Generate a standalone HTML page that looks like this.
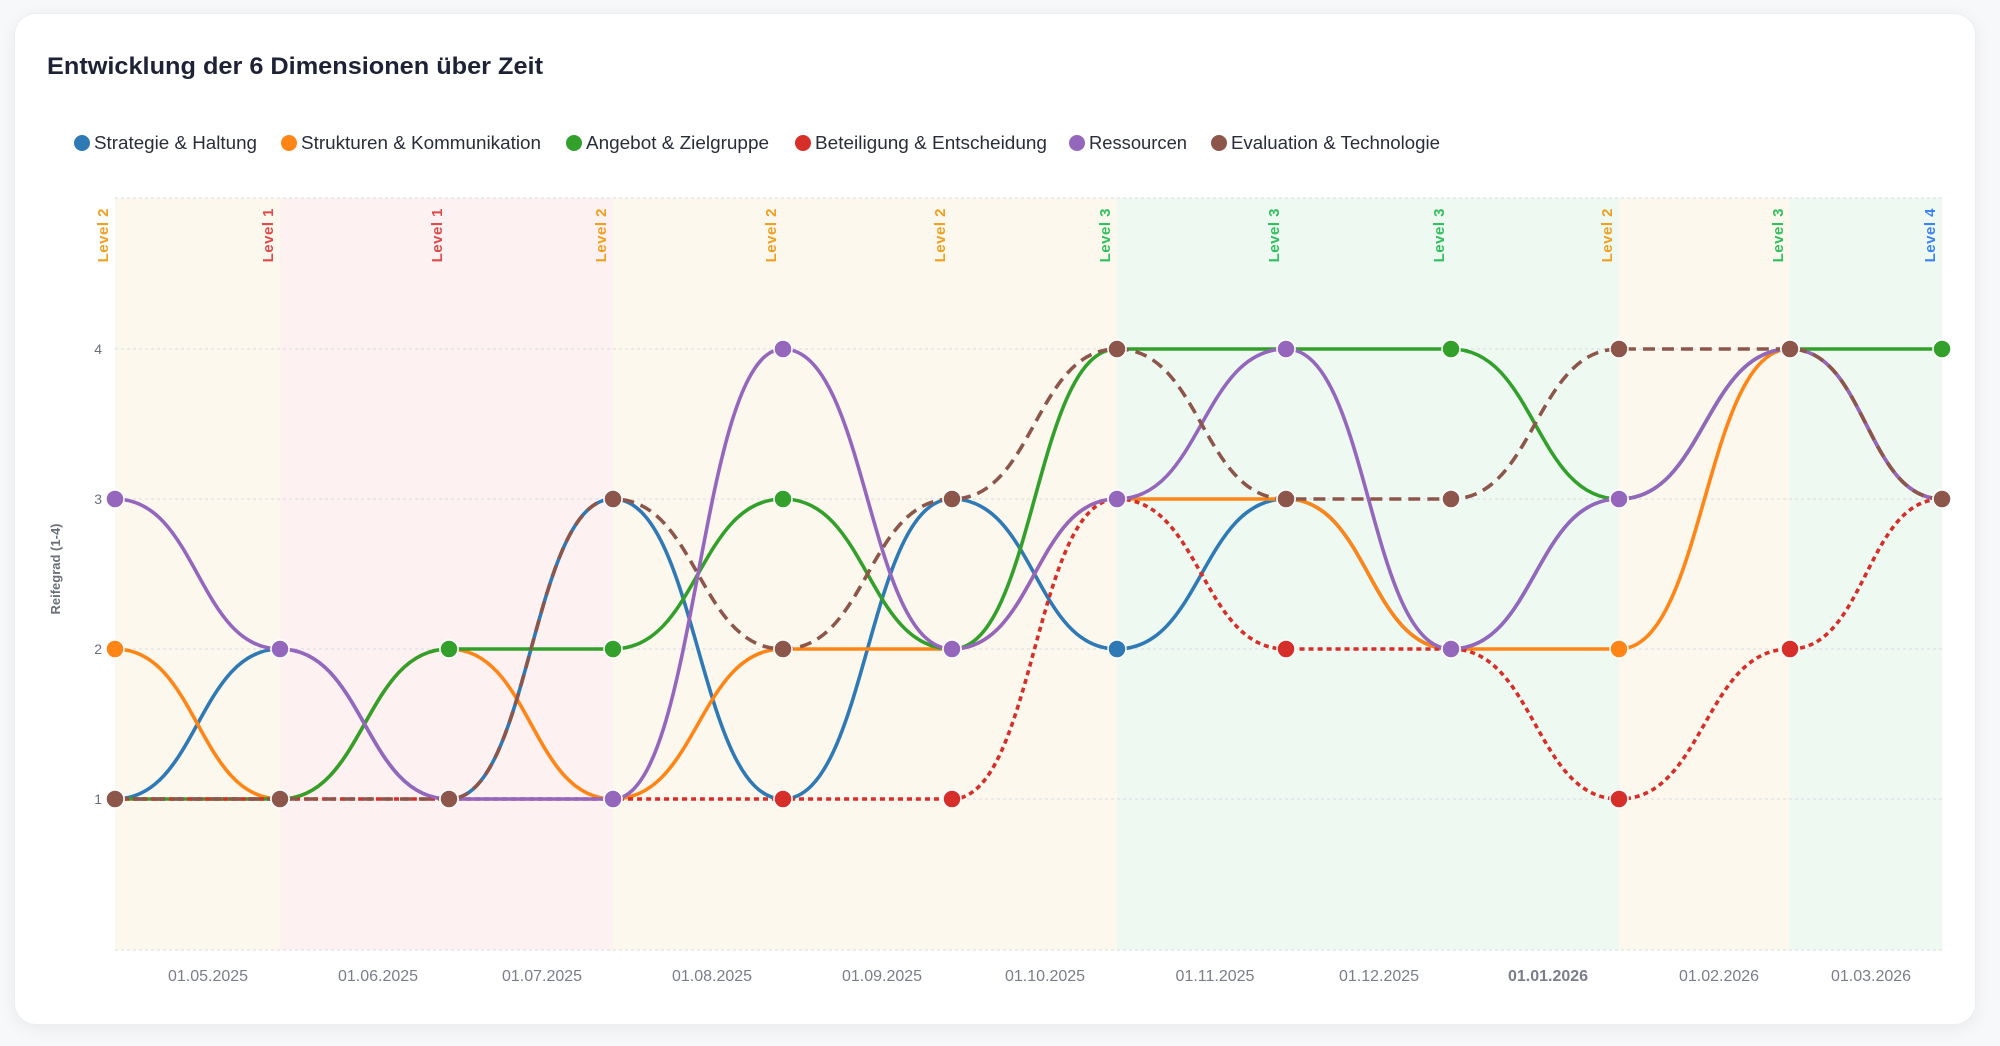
<!DOCTYPE html>
<html><head><meta charset="utf-8">
<style>
html,body{margin:0;padding:0;background:#f7f8fa;width:2000px;height:1046px;overflow:hidden;font-family:"Liberation Sans",sans-serif;}
.card{position:absolute;left:14px;top:13px;width:1960px;height:1010px;background:#fff;border-radius:22px;box-shadow:0 4px 18px rgba(0,0,0,0.06);border:1px solid #eceef2;}
svg{position:absolute;left:0;top:0;}
</style></head><body>
<div class="card"></div>
<svg id="s" width="2000" height="1046" xmlns="http://www.w3.org/2000/svg"></svg>
<script>
const X=[115,280,449,613,783,952,1117,1286,1451,1619,1790,1942];
const Y=v=>949-150*v;
const lvl=[2,1,1,2,2,2,3,3,3,2,3,4];
const lc={1:"#e04a4a",2:"#f0a020",3:"#2fbf5c",4:"#3b82f6"};
const bc={1:"#fdf1f1",2:"#fdf8ee",3:"#eefaf1",4:"#eef4fd"};
const S=[
["Strategie & Haltung","#2f79b5",[1,2,1,3,1,3,2,3,2,3,4,3],"",163],
["Strukturen & Kommunikation","#ff8517",[2,1,2,1,2,2,3,3,2,2,4,3],"",240],
["Angebot & Zielgruppe","#33a02c",[1,1,2,2,3,2,4,4,4,3,4,4],"",183],
["Beteiligung & Entscheidung","#d62f2a",[1,1,1,1,1,1,3,2,2,1,2,3],"5,4",232],
["Ressourcen","#9467bd",[3,2,1,1,4,2,3,4,2,3,4,3],"",98],
["Evaluation & Technologie","#8c564b",[1,1,1,3,2,3,4,3,3,4,4,3],"12,7",209]];
let h='';
h+='<text x="47" y="74" font-size="24" font-weight="bold" fill="#1e2235" textLength="496" lengthAdjust="spacingAndGlyphs">Entwicklung der 6 Dimensionen über Zeit</text>';
const lx=[82,289,574,803,1077,1219];
S.forEach((s,i)=>{h+=`<circle cx="${lx[i]}" cy="143" r="8" fill="${s[1]}"/><text x="${lx[i]+12}" y="149" font-size="18" fill="#2a2d3a" textLength="${s[4]}" lengthAdjust="spacingAndGlyphs">${s[0].replace('&','&amp;')}</text>`;});
for(let i=0;i<11;i++)h+=`<rect x="${X[i]}" y="198" width="${X[i+1]-X[i]}" height="752" fill="${bc[lvl[i]]}"/>`;
[198,349,499,649,799,950].forEach(y=>h+=`<line x1="115" x2="1942" y1="${y}" y2="${y}" stroke="#dfe1e6" stroke-width="1.2" stroke-dasharray="3,3"/>`);
[1,2,3,4].forEach(v=>h+=`<text x="102" y="${Y(v)+5}" font-size="14" fill="#6b6f7b" text-anchor="end">${v}</text>`);
h+=`<text transform="translate(60,569) rotate(-90)" font-size="13" font-weight="bold" fill="#6b6f7b" text-anchor="middle">Reifegrad (1-4)</text>`;
X.forEach((x,i)=>h+=`<text transform="translate(${x-7},208) rotate(-90)" font-size="15" font-weight="bold" fill="${lc[lvl[i]]}" text-anchor="end" letter-spacing="0.5">Level ${lvl[i]}</text>`);
const dl=[[208,"01.05.2025"],[378,"01.06.2025"],[542,"01.07.2025"],[712,"01.08.2025"],[882,"01.09.2025"],[1045,"01.10.2025"],[1215,"01.11.2025"],[1379,"01.12.2025"],[1548,"01.01.2026"],[1719,"01.02.2026"],[1871,"01.03.2026"]];
dl.forEach(d=>h+=`<text x="${d[0]}" y="981" font-size="16" fill="#7a7e8a" text-anchor="middle" ${d[1]=="01.01.2026"?'font-weight="bold"':''}>${d[1]}</text>`);
S.forEach(s=>{let d=`M${X[0]},${Y(s[2][0])}`;for(let i=1;i<12;i++){const m=(X[i]-X[i-1])/2;d+=` C${X[i-1]+m},${Y(s[2][i-1])} ${X[i]-m},${Y(s[2][i])} ${X[i]},${Y(s[2][i])}`;}
h+=`<path d="${d}" fill="none" stroke="${s[1]}" stroke-width="3.6" ${s[3]?`stroke-dasharray="${s[3]}"`:''}/>`;});
S.forEach(s=>s[2].forEach((v,i)=>h+=`<circle cx="${X[i]}" cy="${Y(v)}" r="9" fill="${s[1]}" stroke="#fff" stroke-width="1.5"/>`));
document.getElementById('s').innerHTML=h;
</script>
</body></html>
